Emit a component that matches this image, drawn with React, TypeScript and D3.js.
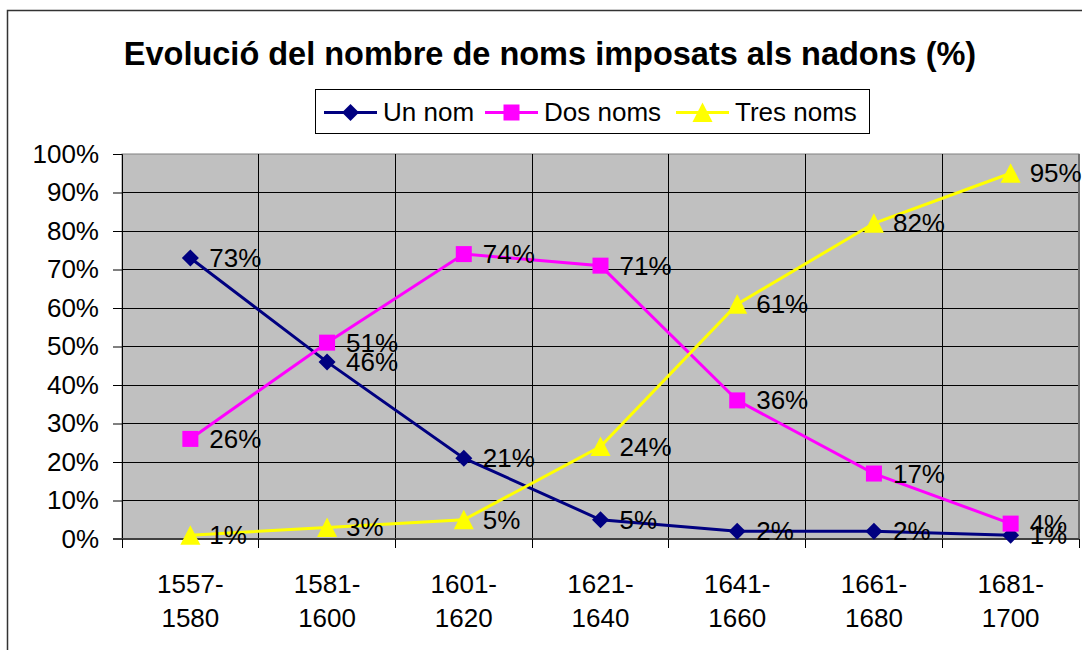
import React, { useRef, useEffect } from "react"
import * as d3 from "d3"

const periods = ["1557-1580", "1581-1600", "1601-1620", "1621-1640", "1641-1660", "1661-1680", "1681-1700"]
const unNom = [73, 46, 21, 5, 2, 2, 1]
const dosNoms = [26, 51, 74, 71, 36, 17, 4]
const tresNoms = [1, 3, 5, 24, 61, 82, 95]
const yTicks = [0, 10, 20, 30, 40, 50, 60, 70, 80, 90, 100]

const seriesList = [
  { name: "Un nom", values: unNom, color: "#000080", marker: "diamond" },
  { name: "Dos noms", values: dosNoms, color: "#FF00FF", marker: "square" },
  { name: "Tres noms", values: tresNoms, color: "#FFFF00", marker: "triangle" },
]

const W = 1082
const H = 650
const FONT = "'Liberation Sans', Arial, sans-serif"

const App: React.FC = () => {
  const svgRef = useRef<SVGSVGElement | null>(null)

  useEffect(() => {
    if (!svgRef.current) return
    const svg = d3.select(svgRef.current)
    svg.selectAll("*").remove()

    const plot = { left: 122, right: 1079, top: 154, bottom: 539 }

    const x = d3.scaleBand().domain(periods).range([plot.left, plot.right]).padding(0)
    const y = d3.scaleLinear().domain([0, 100]).range([plot.bottom, plot.top])
    const cx = (p: string) => (x(p) || 0) + x.bandwidth() / 2

    // outer chart border (only left/top visible)
    svg.append("rect")
      .attr("x", 7.5).attr("y", 10.5).attr("width", 1100).attr("height", 700)
      .attr("fill", "#fff").attr("stroke", "#333").attr("stroke-width", 1.5)

    // title
    svg.append("text")
      .attr("x", 550).attr("y", 65)
      .attr("text-anchor", "middle")
      .attr("font-family", FONT).attr("font-weight", "bold").attr("font-size", 32.5)
      .text("Evolució del nombre de noms imposats als nadons (%)")

    // plot area
    svg.append("rect")
      .attr("x", plot.left).attr("y", plot.top)
      .attr("width", plot.right - plot.left).attr("height", plot.bottom - plot.top)
      .attr("fill", "#C0C0C0").attr("stroke", "#808080").attr("stroke-width", 1)

    const grid = svg.append("g").attr("shape-rendering", "crispEdges")
    grid.selectAll("line.h")
      .data(yTicks.filter((t) => t > 0 && t < 100))
      .enter().append("line")
      .attr("x1", plot.left).attr("x2", plot.right)
      .attr("y1", (d) => y(d)).attr("y2", (d) => y(d))
      .attr("stroke", "#000").attr("stroke-width", 1)
    grid.selectAll("line.v")
      .data(periods.slice(1))
      .enter().append("line")
      .attr("x1", (d) => x(d) || 0).attr("x2", (d) => x(d) || 0)
      .attr("y1", plot.top).attr("y2", plot.bottom)
      .attr("stroke", "#000").attr("stroke-width", 1)
    grid.append("line")
      .attr("x1", plot.right).attr("x2", plot.right)
      .attr("y1", plot.top).attr("y2", plot.bottom)
      .attr("stroke", "#707070").attr("stroke-width", 2)

    // y axis
    const yAxis = svg.append("g")
      .attr("transform", `translate(${plot.left},0)`)
      .call(d3.axisLeft(y).tickValues(yTicks).tickSize(9).tickPadding(14).tickFormat((d) => `${d}%`))
    yAxis.select(".domain").attr("stroke", "#000")
    yAxis.selectAll(".tick line").attr("stroke", "#000")
    yAxis.selectAll("text").attr("font-family", FONT).attr("font-size", 26).attr("fill", "#000")

    // x axis
    const xAxisG = svg.append("g").attr("shape-rendering", "crispEdges")
    xAxisG.append("line")
      .attr("x1", plot.left - 9).attr("x2", plot.right)
      .attr("y1", plot.bottom).attr("y2", plot.bottom)
      .attr("stroke", "#404040").attr("stroke-width", 2)
    xAxisG.selectAll("line.tk")
      .data(periods.concat(["end"]))
      .enter().append("line")
      .attr("x1", (d, i) => plot.left + i * x.bandwidth())
      .attr("x2", (d, i) => plot.left + i * x.bandwidth())
      .attr("y1", plot.bottom).attr("y2", plot.bottom + 9)
      .attr("stroke", "#000")
    const xl = svg.append("g")
      .selectAll("text")
      .data(periods)
      .enter().append("text")
      .attr("text-anchor", "middle")
      .attr("font-family", FONT).attr("font-size", 26)
    xl.append("tspan").attr("x", (d) => cx(d)).attr("y", 593).text((d) => d.split("-")[0] + "-")
    xl.append("tspan").attr("x", (d) => cx(d)).attr("y", 627).text((d) => d.split("-")[1])

    const drawMarker = (g: d3.Selection<SVGGElement, unknown, null, undefined>, kind: string, px: number, py: number, color: string) => {
      if (kind === "diamond") {
        g.append("path")
          .attr("d", `M${px},${py - 8.5}L${px + 8.5},${py}L${px},${py + 8.5}L${px - 8.5},${py}Z`)
          .attr("fill", color)
      } else if (kind === "square") {
        g.append("rect").attr("x", px - 8).attr("y", py - 8).attr("width", 16).attr("height", 16).attr("fill", color)
      } else {
        g.append("path")
          .attr("d", `M${px},${py - 10}L${px + 10},${py + 9.5}L${px - 10},${py + 9.5}Z`)
          .attr("fill", color)
      }
    }

    // series
    const line = d3.line<number>().x((d, i) => cx(periods[i])).y((d) => y(d))
    seriesList.forEach((s) => {
      const g = svg.append("g")
      g.append("path").attr("d", line(s.values) || "")
        .attr("fill", "none").attr("stroke", s.color).attr("stroke-width", 3)
      s.values.forEach((v, i) => drawMarker(g, s.marker, cx(periods[i]), y(v), s.color))
    })
    seriesList.forEach((s) => {
      svg.append("g").selectAll("text")
        .data(s.values)
        .enter().append("text")
        .attr("x", (d, i) => cx(periods[i]) + 19)
        .attr("y", (d) => y(d) + 9)
        .attr("font-family", FONT).attr("font-size", 26).attr("fill", "#000")
        .text((d) => `${d}%`)
    })

    // legend
    const lg = svg.append("g")
    lg.append("rect")
      .attr("x", 315.5).attr("y", 89.5).attr("width", 554).attr("height", 44)
      .attr("fill", "#fff").attr("stroke", "#000").attr("stroke-width", 1)
    const legendX = [324, 485, 676]
    seriesList.forEach((s, i) => {
      const lx = legendX[i]
      const ly = 112.5
      lg.append("line").attr("x1", lx).attr("x2", lx + 53).attr("y1", ly).attr("y2", ly)
        .attr("stroke", s.color).attr("stroke-width", 3)
      drawMarker(lg, s.marker, lx + 26.5, ly, s.color)
      lg.append("text").attr("x", lx + 59).attr("y", ly + 8.5)
        .attr("font-family", FONT).attr("font-size", 26).text(s.name)
    })
  }, [])

  return (
    <svg ref={svgRef} width={W} height={H} style={{ position: "absolute", left: 0, top: 0, background: "#fff" }}></svg>
  )
}

export default App
